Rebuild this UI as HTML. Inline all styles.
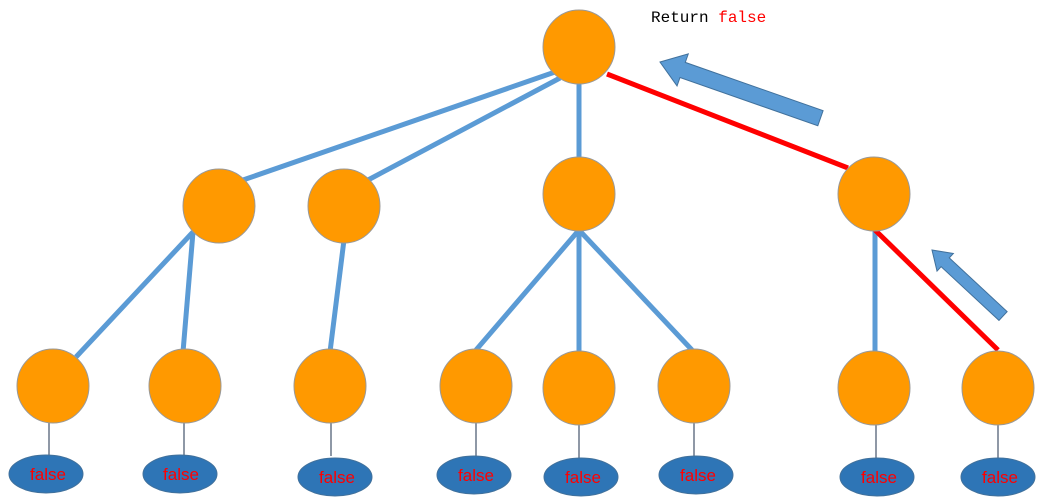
<!DOCTYPE html>
<html><head><meta charset="utf-8"><style>body{margin:0;background:#fff}svg{display:block}</style></head><body>
<svg width="1043" height="497" viewBox="0 0 1043 497" xmlns="http://www.w3.org/2000/svg">
<g stroke="#5b9bd5" stroke-width="5" fill="none">
<line x1="555" y1="72" x2="243" y2="180"/>
<line x1="560" y1="78" x2="368" y2="180"/>
<line x1="579" y1="80" x2="579" y2="160"/>
<line x1="193" y1="232" x2="76" y2="357"/>
<line x1="193" y1="232" x2="183" y2="352"/>
<line x1="344" y1="240" x2="330" y2="352"/>
<line x1="579" y1="230" x2="476" y2="350"/>
<line x1="579" y1="230" x2="579" y2="352"/>
<line x1="579" y1="230" x2="692" y2="350"/>
<line x1="875" y1="230" x2="875" y2="352"/>
</g>
<g stroke="#ff0000" stroke-width="5">
<line x1="607" y1="74" x2="848" y2="168"/>
<line x1="875" y1="230" x2="998" y2="350"/>
</g>
<g stroke="#44546a" stroke-width="1.2">
<line x1="49" y1="423" x2="49" y2="456"/>
<line x1="184" y1="423" x2="184" y2="457"/>
<line x1="331" y1="423" x2="331" y2="456"/>
<line x1="476" y1="423" x2="476" y2="456"/>
<line x1="579" y1="423" x2="579" y2="458"/>
<line x1="694" y1="423" x2="694" y2="456"/>
<line x1="876" y1="423" x2="876" y2="458"/>
<line x1="998" y1="423" x2="998" y2="458"/>
</g>
<g fill="#ff9900" stroke="#999" stroke-width="1">
<ellipse cx="579" cy="47" rx="36" ry="37"/>
<ellipse cx="219" cy="206" rx="36" ry="37"/>
<ellipse cx="344" cy="206" rx="36" ry="37"/>
<ellipse cx="579" cy="194" rx="36" ry="37"/>
<ellipse cx="874" cy="194" rx="36" ry="37"/>
<ellipse cx="53" cy="386" rx="36" ry="37"/>
<ellipse cx="185" cy="386" rx="36" ry="37"/>
<ellipse cx="330" cy="386" rx="36" ry="37"/>
<ellipse cx="476" cy="386" rx="36" ry="37"/>
<ellipse cx="579" cy="388" rx="36" ry="37"/>
<ellipse cx="694" cy="386" rx="36" ry="37"/>
<ellipse cx="874" cy="388" rx="36" ry="37"/>
<ellipse cx="998" cy="388" rx="36" ry="37"/>
</g>
<g fill="#2e75b6" stroke="#41719c" stroke-width="1">
<ellipse cx="46" cy="474" rx="37" ry="19"/>
<ellipse cx="180" cy="474" rx="37" ry="19"/>
<ellipse cx="335" cy="477" rx="37" ry="19"/>
<ellipse cx="474" cy="475" rx="37" ry="19"/>
<ellipse cx="581" cy="477" rx="37" ry="19"/>
<ellipse cx="696" cy="475" rx="37" ry="19"/>
<ellipse cx="877" cy="477" rx="37" ry="19"/>
<ellipse cx="998" cy="477" rx="37" ry="19"/>
</g>
<g fill="#ff0000" font-family="Liberation Sans, sans-serif" font-size="17" text-anchor="middle">
<text x="48" y="480">false</text>
<text x="181" y="480">false</text>
<text x="337" y="483">false</text>
<text x="476" y="481">false</text>
<text x="583" y="483">false</text>
<text x="698" y="481">false</text>
<text x="879" y="483">false</text>
<text x="1000" y="483">false</text>
</g>
<g fill="#5b9bd5" stroke="#41719c" stroke-width="1">
<polygon transform="translate(660,62) rotate(19.3)" points="0,0 24,-17 24,-8 170,-8 170,8 24,8 24,17"/>
<polygon transform="translate(932,250) rotate(42.9)" points="0,0 18,-12 18,-6 97,-6 97,6 18,6 18,12"/>
</g>
<text x="651" y="22" font-family="Liberation Mono, monospace" font-size="16" fill="#000">Return <tspan fill="#ff0000">false</tspan></text>
</svg>
</body></html>
